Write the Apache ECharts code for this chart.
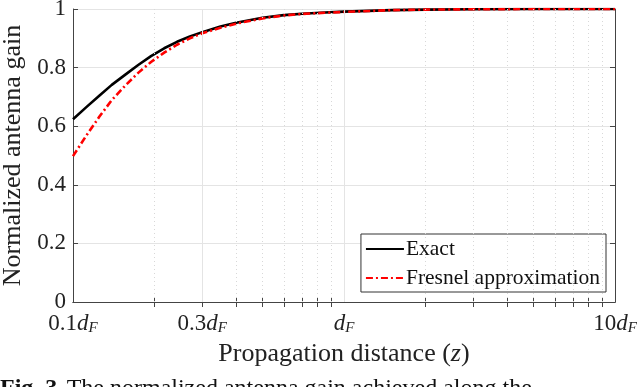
<!DOCTYPE html>
<html>
<head>
<meta charset="utf-8">
<script src="https://cdn.jsdelivr.net/npm/echarts@6/dist/echarts.min.js"></script>
<style>
  html, body { margin: 0; padding: 0; background: #fff; }
  #chart { width: 640px; height: 387px; }
</style>
</head>
<body>
<div id="chart"></div>
<script>
// distance in units of d_F
var distance = [0.1, 0.112, 0.125, 0.139, 0.156, 0.174, 0.194, 0.217, 0.242, 0.27, 0.3, 0.35, 0.4, 0.5, 0.6, 0.7, 0.85, 1, 1.5, 2, 3, 5, 10]
var exactGain = [0.624, 0.665, 0.704, 0.741, 0.776, 0.809, 0.839, 0.866, 0.888, 0.906, 0.921, 0.940, 0.953, 0.970, 0.979, 0.984, 0.988, 0.991, 0.996, 0.998, 0.999, 1, 1]
var fresnelGain = [0.498, 0.568, 0.632, 0.689, 0.739, 0.782, 0.819, 0.851, 0.878, 0.900, 0.917, 0.936, 0.950, 0.968, 0.978, 0.983, 0.987, 0.990, 0.996, 0.998, 0.999, 1, 1]

var xLabelValues = [0.1, 0.3, 1, 10]
var xMinor = [0.2, 0.3, 0.4, 0.5, 0.6, 0.7, 0.8, 0.9, 2, 3, 4, 5, 6, 7, 8, 9]
var xMajorGrid = [0.3, 1]

var serif = "'Liberation Serif', 'DejaVu Serif', serif"

function pairs(xs, ys) {
    return xs.map(function (x, i) { return [x, ys[i]] })
}

function xLabel(v) {
    var n = Math.abs(v - 1) < 1e-9 ? '' : (Math.abs(v - 0.1) < 1e-9 ? '0.1' : (Math.abs(v - 0.3) < 1e-9 ? '0.3' : '10'))
    return (n ? '{n|' + n + '}' : '') + '{i|d}{s|F}'
}

var gridLines = xMinor.map(function (v) {
    var major = xMajorGrid.indexOf(v) >= 0
    return {
        xAxis: v,
        lineStyle: major ? { color: '#e4e4e4', width: 1, type: 'solid' } : { color: '#d8d8d8', width: 1, type: [1, 3] }
    }
})
gridLines.push({ xAxis: 1, lineStyle: { color: '#e4e4e4', width: 1, type: 'solid' } })

var chart = echarts.init(document.getElementById('chart'))

chart.setOption({
    animation: false,
    backgroundColor: '#fff',
    grid: { left: 73, right: 25, top: 9, bottom: 85, outerBoundsMode: 'none', containLabel: false },
    legend: {
        data: ['Exact', 'Fresnel approximation'],
        orient: 'vertical',
        right: 34,
        bottom: 95,
        itemWidth: 38,
        itemHeight: 14,
        itemGap: 7,
        padding: [4, 6, 3, 4],
        borderColor: '#333',
        borderWidth: 1,
        borderRadius: 0,
        backgroundColor: '#fff',
        itemStyle: { opacity: 0 },
        textStyle: { fontFamily: serif, fontSize: 21.5, color: '#111', padding: [0, 0, 0, -3] }
    },
    xAxis: [
        {
            type: 'log',
            logBase: 10,
            min: 0.1,
            max: 10,
            position: 'bottom',
            name: '{t|Propagation distance (}{z|z}{t|)}',
            nameLocation: 'middle',
            nameGap: 36,
            nameTextStyle: {
                rich: {
                    t: { fontFamily: serif, fontSize: 26, color: '#222' },
                    z: { fontFamily: serif, fontSize: 26, fontStyle: 'italic', color: '#222' }
                }
            },
            axisLine: { show: true, lineStyle: { color: '#444', width: 1 } },
            axisTick: { show: true, inside: true, length: 5, customValues: xMinor, lineStyle: { color: '#444' } },
            axisLabel: {
                customValues: xLabelValues,
                margin: 9,
                hideOverlap: false,
                formatter: xLabel,
                rich: {
                    n: { fontFamily: serif, fontSize: 23, color: '#222' },
                    i: { fontFamily: serif, fontSize: 23, fontStyle: 'italic', color: '#222' },
                    s: { fontFamily: serif, fontSize: 15, fontStyle: 'italic', color: '#222', padding: [10, 0, 0, 0] }
                }
            },
            splitLine: { show: false },
            minorSplitLine: { show: false }
        },
        {
            type: 'log',
            logBase: 10,
            min: 0.1,
            max: 10,
            position: 'top',
            axisLine: { show: true, lineStyle: { color: '#444', width: 1 } },
            axisTick: { show: true, inside: true, length: 5, customValues: xMinor, lineStyle: { color: '#444' } },
            axisLabel: { show: false },
            splitLine: { show: false }
        }
    ],
    yAxis: [
        {
            type: 'value',
            min: 0,
            max: 1,
            interval: 0.2,
            position: 'left',
            name: 'Normalized antenna gain',
            nameLocation: 'middle',
            nameGap: 44,
            nameTextStyle: { fontFamily: serif, fontSize: 26, color: '#222' },
            axisLine: { show: true, lineStyle: { color: '#444', width: 1 } },
            axisTick: { show: true, inside: true, length: 5, lineStyle: { color: '#444' } },
            axisLabel: {
                margin: 7,
                fontFamily: serif,
                fontSize: 23,
                color: '#222',
                formatter: function (v) { return String(Math.round(v * 10) / 10) }
            },
            splitLine: { show: true, lineStyle: { color: '#e4e4e4', width: 1 } }
        },
        {
            type: 'value',
            min: 0,
            max: 1,
            interval: 0.2,
            position: 'right',
            axisLine: { show: true, lineStyle: { color: '#444', width: 1 } },
            axisTick: { show: true, inside: true, length: 5, lineStyle: { color: '#444' } },
            axisLabel: { show: false },
            splitLine: { show: false }
        }
    ],
    series: [
        {
            name: 'grid',
            type: 'line',
            data: [],
            z: 1,
            silent: true,
            markLine: {
                silent: true,
                symbol: ['none', 'none'],
                label: { show: false },
                animation: false,
                data: gridLines
            }
        },
        {
            name: 'Exact',
            type: 'line',
            data: pairs(distance, exactGain),
            smooth: false,
            symbol: 'none',
            z: 3,
            color: '#000',
            lineStyle: { color: '#000', width: 2.6, join: 'round' }
        },
        {
            name: 'Fresnel approximation',
            type: 'line',
            data: pairs(distance, fresnelGain),
            smooth: false,
            symbol: 'none',
            z: 4,
            color: '#ff0000',
            lineStyle: { color: '#ff0000', width: 2.6, type: [7, 3, 2, 3], join: 'round' }
        }
    ],
    graphic: [
        {
            type: 'text',
            left: 0,
            top: 377,
            style: {
                text: '{b|Fig. 3.} {r|The normalized antenna gain achieved along the}',
                rich: {
                    b: { fontFamily: serif, fontSize: 24, fontWeight: 'bold', fill: '#111' },
                    r: { fontFamily: serif, fontSize: 24, fill: '#111' }
                }
            }
        }
    ]
})
</script>
</body>
</html>
